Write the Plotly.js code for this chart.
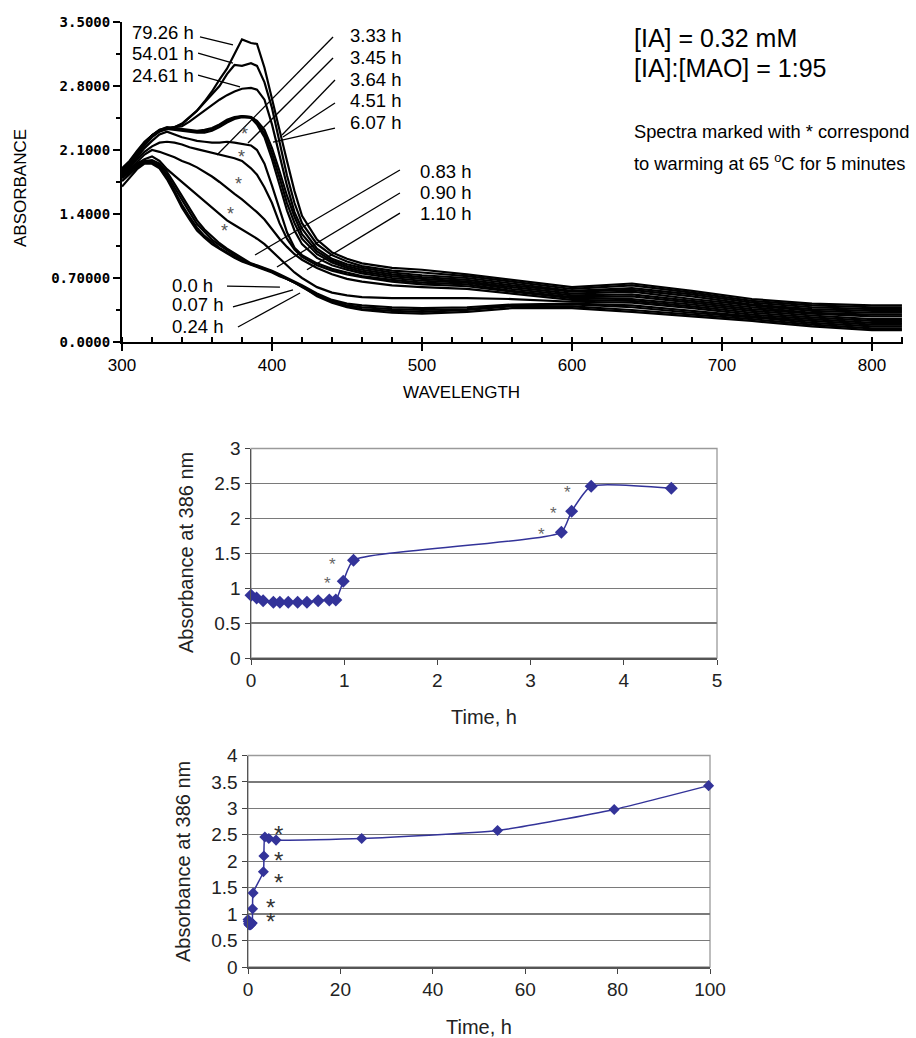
<!DOCTYPE html>
<html><head><meta charset="utf-8">
<script src="https://cdn.plot.ly/plotly-3.0.1.min.js"></script>
<style>html,body{margin:0;padding:0;background:#fff;}#chart{width:916px;height:1038px;}</style>
</head><body><div id="chart"></div>
<script>
// ---------- DATA: UV-vis spectra (absorbance vs wavelength) ----------
const wavelength_nm = [300,305,310,315,320,325,330,335,340,345, 350,355,360,365,370,375,380,386,390,395, 400,405,410,415,420,430,440,450,460,480, 500,530,560,600,640,680,720,760,800,820];
const spectrum_times = ["0.0 h","0.07 h","0.24 h","0.83 h","0.90 h","1.10 h","3.33 h","3.45 h","3.64 h","4.51 h","6.07 h","24.61 h","54.01 h","79.26 h"];
const abs_t0_00 = [1.70,1.80,1.89,1.95,1.95,1.90,1.78,1.63,1.47,1.34, 1.22,1.14,1.07,1.02,0.97,0.92,0.88,0.84,0.82,0.79, 0.76,0.72,0.69,0.65,0.61,0.50,0.43,0.38,0.35,0.32, 0.31,0.33,0.37,0.37,0.33,0.28,0.23,0.17,0.13,0.13];
const abs_t0_07 = [1.76,1.84,1.91,1.96,1.96,1.91,1.80,1.65,1.50,1.37, 1.25,1.16,1.09,1.03,0.98,0.93,0.89,0.85,0.83,0.80, 0.77,0.73,0.69,0.65,0.60,0.51,0.44,0.39,0.36,0.34, 0.33,0.35,0.39,0.39,0.35,0.30,0.25,0.19,0.15,0.15];
const abs_t0_24 = [1.79,1.86,1.93,1.97,1.97,1.93,1.83,1.69,1.55,1.42, 1.29,1.20,1.12,1.06,1.00,0.95,0.90,0.85,0.83,0.80, 0.77,0.73,0.69,0.65,0.61,0.52,0.45,0.40,0.38,0.36, 0.35,0.36,0.40,0.41,0.38,0.32,0.27,0.21,0.17,0.17];
const abs_t0_83 = [1.82,1.88,1.94,1.98,1.99,1.95,1.86,1.73,1.60,1.46, 1.33,1.23,1.15,1.08,1.02,0.97,0.92,0.86,0.84,0.81, 0.78,0.74,0.70,0.66,0.62,0.53,0.46,0.42,0.40,0.38, 0.37,0.38,0.41,0.42,0.40,0.34,0.28,0.23,0.19,0.19];
const abs_t0_90 = [1.80,1.87,1.95,2.00,2.03,1.98,1.89,1.82,1.75,1.68, 1.61,1.54,1.47,1.40,1.33,1.28,1.23,1.17,1.13,1.07, 0.99,0.91,0.83,0.76,0.70,0.60,0.54,0.51,0.49,0.48, 0.48,0.48,0.47,0.44,0.43,0.37,0.30,0.25,0.21,0.21];
const abs_t1_10 = [1.82,1.88,1.97,2.05,2.10,2.08,2.05,2.02,1.98,1.95, 1.91,1.86,1.81,1.75,1.68,1.62,1.56,1.48,1.42,1.34, 1.23,1.13,1.04,0.96,0.90,0.81,0.74,0.69,0.66,0.62, 0.60,0.58,0.53,0.46,0.45,0.39,0.32,0.27,0.23,0.23];
const abs_t3_33 = [1.84,1.90,2.00,2.08,2.14,2.18,2.19,2.18,2.16,2.13, 2.11,2.09,2.07,2.05,2.03,2.01,1.98,1.90,1.83,1.69, 1.52,1.30,1.13,1.01,0.93,0.84,0.78,0.74,0.71,0.66, 0.63,0.61,0.55,0.48,0.47,0.41,0.34,0.29,0.25,0.25];
const abs_t3_45 = [1.85,1.92,2.02,2.12,2.20,2.27,2.30,2.27,2.24,2.22, 2.20,2.19,2.18,2.18,2.19,2.18,2.17,2.15,2.10,1.95, 1.71,1.45,1.20,1.03,0.95,0.86,0.80,0.76,0.72,0.68, 0.65,0.63,0.56,0.49,0.50,0.43,0.36,0.31,0.28,0.28];
const abs_t3_64 = [1.86,1.93,2.04,2.15,2.24,2.30,2.33,2.32,2.31,2.30, 2.29,2.29,2.31,2.35,2.40,2.44,2.46,2.45,2.38,2.24, 2.00,1.72,1.44,1.22,1.07,0.92,0.84,0.79,0.75,0.70, 0.67,0.65,0.58,0.51,0.52,0.45,0.38,0.32,0.30,0.30];
const abs_t4_51 = [1.87,1.94,2.05,2.16,2.25,2.31,2.34,2.33,2.32,2.31, 2.30,2.31,2.33,2.37,2.42,2.45,2.47,2.46,2.40,2.28, 2.06,1.80,1.52,1.30,1.13,0.96,0.87,0.81,0.77,0.72, 0.69,0.66,0.60,0.53,0.55,0.47,0.40,0.34,0.32,0.32];
const abs_t6_07 = [1.88,1.95,2.06,2.17,2.26,2.32,2.35,2.34,2.33,2.32, 2.31,2.32,2.34,2.38,2.43,2.46,2.47,2.46,2.42,2.32, 2.12,1.87,1.60,1.37,1.18,0.99,0.89,0.83,0.79,0.74, 0.71,0.68,0.62,0.55,0.57,0.50,0.41,0.36,0.34,0.34];
const abs_t24_61 = [1.88,1.96,2.07,2.18,2.26,2.32,2.34,2.35,2.36,2.41, 2.47,2.54,2.60,2.65,2.70,2.74,2.77,2.78,2.76,2.65, 2.38,2.04,1.71,1.42,1.24,1.02,0.91,0.85,0.81,0.76, 0.73,0.70,0.64,0.56,0.59,0.52,0.43,0.38,0.36,0.36];
const abs_t54_01 = [1.89,1.97,2.08,2.18,2.26,2.31,2.33,2.35,2.38,2.45, 2.53,2.62,2.71,2.80,2.93,3.03,3.02,3.05,3.02,2.84, 2.56,2.18,1.82,1.52,1.30,1.07,0.95,0.88,0.83,0.78, 0.76,0.72,0.66,0.58,0.62,0.54,0.45,0.40,0.38,0.38];
const abs_t79_26 = [1.90,1.98,2.09,2.19,2.26,2.31,2.33,2.35,2.39,2.46, 2.53,2.63,2.74,2.87,2.99,3.15,3.31,3.27,3.26,3.00, 2.65,2.30,1.98,1.65,1.38,1.12,0.98,0.91,0.86,0.81, 0.79,0.74,0.68,0.60,0.64,0.56,0.47,0.42,0.40,0.40];
const spectra = [abs_t0_00,abs_t0_07,abs_t0_24,abs_t0_83,abs_t0_90,abs_t1_10,abs_t3_33,abs_t3_45,abs_t3_64,abs_t4_51,abs_t6_07,abs_t24_61,abs_t54_01,abs_t79_26];

const spec_ytick_vals = [0, 0.7, 1.4, 2.1, 2.8, 3.5];
const spec_ytick_text = ["0.0000","0.70000","1.4000","2.1000","2.8000","3.5000"];

// ---------- DATA: absorbance at 386 nm vs time ----------
const time_h    = [0, 0.06, 0.13, 0.24, 0.31, 0.40, 0.50, 0.60, 0.72, 0.84, 0.91, 0.99, 1.10, 3.33, 3.44, 3.65, 4.51, 6.07, 24.61, 54.01, 79.26, 99.7];
const abs_386nm = [0.90, 0.86, 0.82, 0.80, 0.80, 0.80, 0.80, 0.80, 0.82, 0.83, 0.83, 1.10, 1.40, 1.80, 2.10, 2.46, 2.43, 2.40, 2.43, 2.58, 2.98, 3.43];

// ---------- LAYOUT ----------
const W = 916, H = 1038;
const px = v => v / W, py = v => 1 - v / H;
const FONT = "Liberation Sans, Arial, sans-serif";
const BLUE = "#333399";

const traces = [];
spectra.forEach((s, i) => traces.push({
  x: wavelength_nm, y: s, xaxis: "x", yaxis: "y", type: "scatter", mode: "lines",
  line: {color: "#000", width: 2.2}, hoverinfo: "skip", showlegend: false, name: spectrum_times[i]
}));
const short = time_h.map((t, i) => [t, abs_386nm[i]]).filter(p => p[0] <= 5);
traces.push({
  x: short.map(p => p[0]), y: short.map(p => p[1]), xaxis: "x2", yaxis: "y2", type: "scatter",
  mode: "lines+markers", cliponaxis: false, showlegend: false,
  line: {color: BLUE, width: 1.5, shape: "spline", smoothing: 0.5},
  marker: {symbol: "diamond", size: 10, color: BLUE}
});
traces.push({
  x: time_h, y: abs_386nm, xaxis: "x3", yaxis: "y3", type: "scatter",
  mode: "lines+markers", cliponaxis: false, showlegend: false,
  line: {color: BLUE, width: 1.5, shape: "spline", smoothing: 0.5},
  marker: {symbol: "diamond", size: 8.5, color: BLUE}
});

const ann = [];
function txt(text, x, y, xref, yref, size, opts) {
  ann.push(Object.assign({text, x, y, xref, yref, showarrow: false, xanchor: "left", yanchor: "middle",
    font: {family: FONT, size, color: "#000"}}, opts || {}));
}
const labelPos = [
  ["79.26 h",305.3,3.39],["54.01 h",305.3,3.15],["24.61 h",305.3,2.91],
  ["3.33 h",450.7,3.35],["3.45 h",450.7,3.11],["3.64 h",450.7,2.87],["4.51 h",450.7,2.64],["6.07 h",450.7,2.40],
  ["0.83 h",497.3,1.86],["0.90 h",497.3,1.63],["1.10 h",497.3,1.40],
  ["0.0 h",332,0.62],["0.07 h",332,0.405],["0.24 h",332,0.167]
];
labelPos.forEach(l => txt(l[0], l[1], l[2], "x", "y", 18.5));
const leaders = [
  [352,3.336,374,3.25],[350.7,3.16,374,3.05],[350.7,2.92,378.7,2.79],
  [440.7,3.336,363.3,2.045],[440.7,3.106,384,2.176],[442,2.865,406.7,2.264],[442,2.614,407.3,2.242],[442,2.34,400.7,2.187],
  [485.3,1.881,388.7,0.952],[485.3,1.63,403.3,0.82],[485.3,1.41,423.3,0.79],
  [370,0.612,405.3,0.60],[374,0.383,414,0.569],[377.3,0.164,418.7,0.536]
];
const shapes = leaders.map(l => ({type: "line", xref: "x", yref: "y", x0: l[0], y0: l[1], x1: l[2], y1: l[3],
  line: {color: "#000", width: 1.3}, layer: "above"}));
[[382,2.319],[379.8,2.064],[377.5,1.772],[372.5,1.444],[368.2,1.258]].forEach(p =>
  txt("*", p[0], p[1], "x", "y", 18, {xanchor: "center", yshift: -4, font: {family: FONT, size: 18, color: "#555"}}));
txt("[IA] = 0.32 mM", px(632), py(38), "paper", "paper", 25);
txt("[IA]:[MAO] = 1:95", px(632), py(68), "paper", "paper", 25);
txt("Spectra marked with * correspond", px(632), py(131), "paper", "paper", 18.3);
txt("to warming at 65 <sup>o</sup>C for 5 minutes", px(632), py(162), "paper", "paper", 18.3);
txt("ABSORBANCE", px(21), py(188), "paper", "paper", 17, {xanchor: "center", textangle: -90});
txt("WAVELENGTH", px(461), py(392), "paper", "paper", 17, {xanchor: "center"});
const gfont = {family: FONT, size: 20, color: "#222"};
txt("Absorbance at 386 nm", px(186), py(553), "paper", "paper", 20, {xanchor: "center", textangle: -90, font: gfont});
txt("Time, h", px(484), py(717), "paper", "paper", 20, {xanchor: "center", font: gfont});
txt("Absorbance at 386 nm", px(183), py(862), "paper", "paper", 20, {xanchor: "center", textangle: -90, font: gfont});
txt("Time, h", px(479), py(1027), "paper", "paper", 20, {xanchor: "center", font: gfont});
[[0.816,1.12],[0.87,1.39],[3.115,1.83],[3.25,2.13],[3.40,2.43]].forEach(p =>
  txt("*", p[0], p[1], "x2", "y2", 17, {xanchor: "center", yshift: -4, font: {family: FONT, size: 17, color: "#666"}}));
[[6.6,2.62],[6.6,2.12],[6.6,1.71],[4.9,1.23],[4.8,0.98]].forEach(p =>
  txt("*", p[0], p[1], "x3", "y3", 24, {xanchor: "center", yshift: -6, font: {family: FONT, size: 24, color: "#333"}}));

// plot-area borders of the two time plots (paper coords)
const boxes = [[251, 717, 448.5, 658], [248, 710, 755.5, 967]];
boxes.forEach(b => shapes.push({type: "rect", xref: "paper", yref: "paper",
  x0: px(b[0]), x1: px(b[1]), y0: py(b[3]), y1: py(b[2]), line: {color: "#9a9a9a", width: 1.3}, layer: "below"}));

const tf = {family: FONT, size: 19, color: "#222"};
const layout = {
  width: W, height: H, autosize: false, margin: {l: 0, r: 0, t: 0, b: 0},
  paper_bgcolor: "#fff", plot_bgcolor: "rgba(0,0,0,0)", showlegend: false,
  xaxis: {domain: [px(122), px(903)], range: [300, 820.7], anchor: "y", tickmode: "linear", tick0: 300, dtick: 100,
    ticks: "outside", ticklen: 7, tickwidth: 1.5, tickcolor: "#000", showline: true, linecolor: "#000", linewidth: 2,
    showgrid: false, zeroline: false, tickfont: {family: FONT, size: 17, color: "#000"},
    minor: {dtick: 20, ticks: "inside", ticklen: 5, tickwidth: 1.5, tickcolor: "#000", showgrid: false}},
  yaxis: {domain: [py(342), py(22)], range: [0, 3.5], anchor: "x", tickmode: "array", tickvals: spec_ytick_vals, ticktext: spec_ytick_text,
    ticks: "outside", ticklen: 7, tickwidth: 1.5, tickcolor: "#000", showline: true, linecolor: "#000", linewidth: 2,
    showgrid: false, zeroline: false, tickfont: {family: "DejaVu Sans Mono", size: 14, color: "#000", weight: "bold"},
    minor: {tickmode: "linear", tick0: 0, dtick: 0.35, ticks: "outside", ticklen: 4, tickwidth: 1.5, tickcolor: "#000", showgrid: false}},
  xaxis2: {domain: [px(251), px(717)], range: [0, 5], anchor: "y2", dtick: 1, ticks: "outside", ticklen: 5, tickcolor: "#444",
    showline: true, linecolor: "#555", linewidth: 1.5, showgrid: false, zeroline: false, tickfont: tf},
  yaxis2: {domain: [py(658), py(448.5)], range: [0, 3], anchor: "x2", dtick: 0.5, ticks: "outside", ticklen: 5, tickcolor: "#444",
    showline: true, linecolor: "#555", linewidth: 1.5, showgrid: true, gridcolor: "#7a7a7a", gridwidth: 1.3, zeroline: false, tickfont: tf},
  xaxis3: {domain: [px(248), px(710)], range: [0, 100], anchor: "y3", dtick: 20, ticks: "outside", ticklen: 5, tickcolor: "#444",
    showline: true, linecolor: "#555", linewidth: 1.5, showgrid: false, zeroline: false, tickfont: tf},
  yaxis3: {domain: [py(967), py(755.5)], range: [0, 4], anchor: "x3", dtick: 0.5, ticks: "outside", ticklen: 5, tickcolor: "#444",
    showline: true, linecolor: "#555", linewidth: 1.5, showgrid: true, gridcolor: "#7a7a7a", gridwidth: 1.3, zeroline: false, tickfont: tf},
  annotations: ann, shapes: shapes
};
Plotly.newPlot("chart", traces, layout, {staticPlot: true, displayModeBar: false});
</script></body></html>
